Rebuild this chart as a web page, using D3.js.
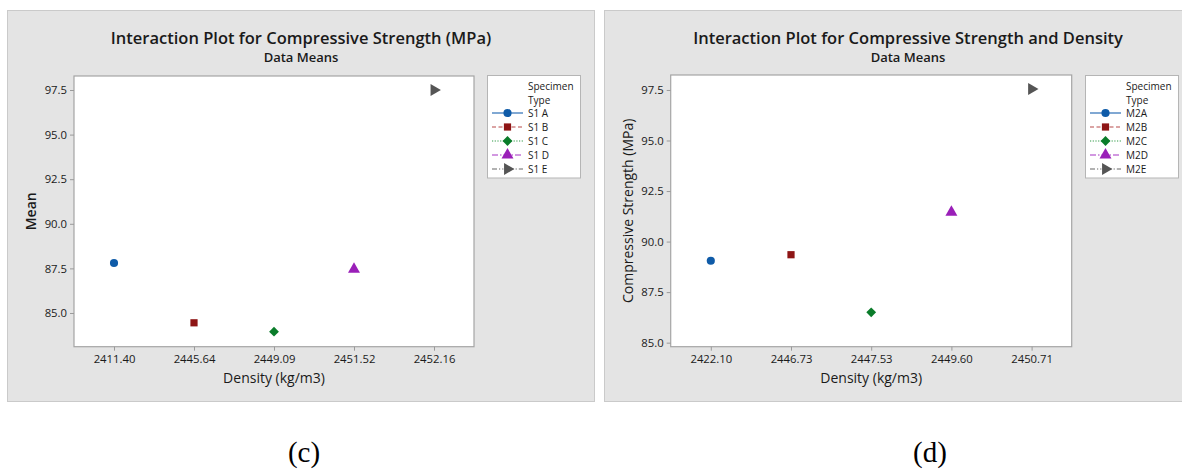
<!DOCTYPE html>
<html>
<head>
<meta charset="utf-8">
<script src="https://cdn.jsdelivr.net/npm/d3@7"></script>
<style>
  body { margin: 0; background: #fff; }
  svg { display: block; font-family: "Open Sans", "Noto Sans", sans-serif; }
</style>
</head>
<body>
<svg id="chart" width="1182" height="473"></svg>
<script>
// values
const leftDensity = ['2411.40', '2445.64', '2449.09', '2451.52', '2452.16'];
const leftMeans = [87.8, 84.45, 83.95, 87.45, 97.5];
const leftTypes = ['S1 A', 'S1 B', 'S1 C', 'S1 D', 'S1 E'];

const rightDensity = ['2422.10', '2446.73', '2447.53', '2449.60', '2450.71'];
const rightMeans = [89.05, 89.35, 86.5, 91.45, 97.55];
const rightTypes = ['M2A', 'M2B', 'M2C', 'M2D', 'M2E'];

const yTicks = [85.0, 87.5, 90.0, 92.5, 95.0, 97.5];

// series styling (Minitab-like)
const markerColors = ['#0f5ba8', '#8e1515', '#0a7c2a', '#9a1fb8', '#555555'];
const lineColors = ['#2a6db5', '#b84a4a', '#2e9a45', '#a533c4', '#666666'];
const dashes = [null, '4,2.5', '1.2,1.5', '6,2,1.5,2', '5,2,1.2,2,1.2,2'];
const shapes = [d3.symbolCircle, d3.symbolSquare, d3.symbolSquare, d3.symbolTriangle, d3.symbolTriangle];
const sizes = [52, 52, 48, 62, 62];
const rotations = [0, 0, 45, 0, 90];

const svg = d3.select('#chart');
const ink = '#1a1a1a';

function drawPanel(cfg) {
  //panel background
  svg.append('rect')
    .attr('x', cfg.px).attr('y', 10.5)
    .attr('width', cfg.pw).attr('height', 391)
    .attr('fill', '#e4e4e4')
    .attr('stroke', '#cacaca');

  //titles
  svg.append('text')
    .attr('x', cfg.px + cfg.pw / 2).attr('y', 44)
    .attr('text-anchor', 'middle')
    .attr('font-size', 16.5).attr('font-weight', 600).attr('fill', ink)
    .text(cfg.title);
  svg.append('text')
    .attr('x', cfg.px + cfg.pw / 2).attr('y', 62)
    .attr('text-anchor', 'middle')
    .attr('font-size', 13).attr('font-weight', 600).attr('fill', ink)
    .text('Data Means');

  //scales
  const x = d3.scalePoint()
    .domain(cfg.density)
    .range([cfg.left, cfg.right])
    .padding(0.5);
  const y = d3.scaleLinear()
    .domain(cfg.yDomain)
    .range([cfg.bottom, cfg.top]);

  //plot area
  svg.append('rect')
    .attr('x', cfg.left).attr('y', cfg.top)
    .attr('width', cfg.right - cfg.left).attr('height', cfg.bottom - cfg.top)
    .attr('fill', '#fff')
    .attr('stroke', '#a5a5a5').attr('stroke-width', 1.2);

  //axes
  const xAxis = svg.append('g')
    .attr('transform', 'translate(0,' + cfg.bottom + ')')
    .call(d3.axisBottom(x).tickSize(4).tickPadding(4));
  const yAxis = svg.append('g')
    .attr('transform', 'translate(' + cfg.left + ',0)')
    .call(d3.axisLeft(y).tickValues(yTicks).tickFormat(d3.format('.1f')).tickSize(4).tickPadding(3));
  [xAxis, yAxis].forEach(a => {
    a.select('.domain').remove();
    a.selectAll('.tick line').attr('stroke', '#9a9a9a');
    a.selectAll('.tick text')
      .attr('font-family', '"Open Sans", "Noto Sans", sans-serif')
      .attr('font-size', 11.3).attr('fill', ink);
  });

  //axis titles
  svg.append('text')
    .attr('x', (cfg.left + cfg.right) / 2).attr('y', 383)
    .attr('text-anchor', 'middle')
    .attr('font-size', 14).attr('fill', ink)
    .text('Density (kg/m3)');
  svg.append('text')
    .attr('transform', 'translate(' + cfg.yTitleX + ',' + (cfg.top + cfg.bottom) / 2 + ') rotate(-90)')
    .attr('text-anchor', 'middle')
    .attr('font-size', 14).attr('font-weight', cfg.yTitleWeight).attr('fill', ink)
    .text(cfg.yTitle);

  //points
  svg.append('g').selectAll('path')
    .data(cfg.means)
    .enter().append('path')
    .attr('d', (d, i) => d3.symbol().type(shapes[i]).size(sizes[i])())
    .attr('transform', (d, i) => 'translate(' + x(cfg.density[i]) + ',' + y(d) + ') rotate(' + rotations[i] + ')')
    .attr('fill', (d, i) => markerColors[i]);

  //legend
  const lg = svg.append('g').attr('transform', 'translate(' + cfg.lx + ',' + cfg.ly + ')');
  lg.append('rect')
    .attr('width', cfg.lw).attr('height', 102.5)
    .attr('fill', '#fff').attr('stroke', '#b5b5b5');
  lg.append('text').attr('x', cfg.ltx).attr('y', 14.5)
    .attr('font-size', 10).attr('fill', ink).text('Specimen');
  lg.append('text').attr('x', cfg.ltx).attr('y', 28.5)
    .attr('font-size', 10).attr('fill', ink).text('Type');
  const item = lg.selectAll('.item')
    .data(cfg.types)
    .enter().append('g')
    .attr('class', 'item')
    .attr('transform', (d, i) => 'translate(0,' + (37.5 + i * 14) + ')');
  item.append('line')
    .attr('x1', cfg.ltx - 36).attr('x2', cfg.ltx - 5)
    .attr('stroke', (d, i) => lineColors[i])
    .attr('stroke-width', 1.2)
    .attr('stroke-dasharray', (d, i) => dashes[i]);
  item.append('path')
    .attr('d', (d, i) => d3.symbol().type(shapes[i]).size(sizes[i])())
    .attr('transform', (d, i) => 'translate(' + (cfg.ltx - 20.5) + ',0) rotate(' + rotations[i] + ')')
    .attr('fill', (d, i) => markerColors[i]);
  item.append('text')
    .attr('x', cfg.ltx).attr('y', 3.6)
    .attr('font-size', 10).attr('fill', ink)
    .text(d => d);
}

drawPanel({
  px: 7.5, pw: 587,
  title: 'Interaction Plot for Compressive Strength (MPa)',
  density: leftDensity, means: leftMeans, types: leftTypes,
  left: 74, right: 474, top: 76, bottom: 346.7,
  yDomain: [83.11, 98.285],
  yTitle: 'Mean', yTitleX: 36, yTitleWeight: 600,
  lx: 487.5, ly: 75.5, lw: 93, ltx: 40.5
});

drawPanel({
  px: 604.5, pw: 607,
  title: 'Interaction Plot for Compressive Strength and Density',
  density: rightDensity, means: rightMeans, types: rightTypes,
  left: 670.7, right: 1071.7, top: 75, bottom: 346.7,
  yDomain: [84.8, 98.24],
  yTitle: 'Compressive Strength (MPa)', yTitleX: 633, yTitleWeight: 400,
  lx: 1085.5, ly: 75.5, lw: 93, ltx: 40.5
});

//panel captions
svg.append('text')
  .attr('x', 304).attr('y', 462)
  .attr('text-anchor', 'middle')
  .attr('font-family', '"Liberation Serif", "Times New Roman", serif')
  .attr('font-size', 29).attr('fill', '#000')
  .text('(c)');
svg.append('text')
  .attr('x', 930).attr('y', 462)
  .attr('text-anchor', 'middle')
  .attr('font-family', '"Liberation Serif", "Times New Roman", serif')
  .attr('font-size', 29).attr('fill', '#000')
  .text('(d)');
</script>
</body>
</html>
